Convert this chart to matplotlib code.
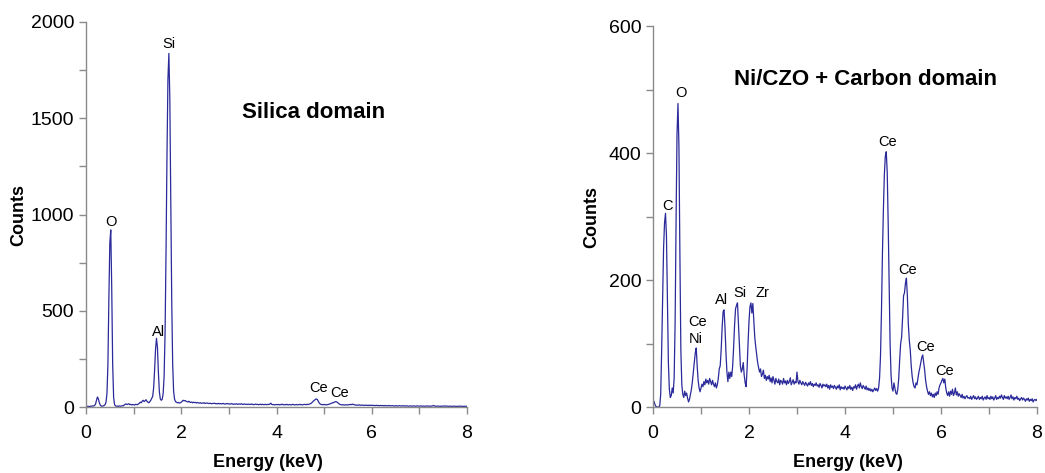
import numpy as np
import matplotlib
matplotlib.use("Agg")
import matplotlib.pyplot as plt
from matplotlib.ticker import MultipleLocator

plt.rcParams['font.family'] = ['Liberation Sans', 'DejaVu Sans']

# energy step of the spectra (keV per channel)
step = 0.02

# Silica domain counts, 0.00 .. 8.00 keV
silica_counts = [
    3, 2, 4, 3, 2, 5, 4, 6, 5, 8,
    15, 35, 52, 42, 22, 10, 5, 4, 6, 8,
    12, 25, 70, 220, 560, 850, 920, 620, 220, 50,
    12, 6, 4, 5, 3, 6, 4, 5, 7, 6,
    10, 14, 16, 13, 15, 17, 12, 14, 11, 13,
    12, 10, 14, 13, 12, 16, 20, 25, 22, 30,
    35, 28, 32, 38, 30, 25, 22, 28, 35, 45,
    55, 100, 190, 300, 357, 310, 180, 80, 42, 35,
    40, 70, 160, 380, 800, 1300, 1700, 1837, 1600, 1100,
    550, 220, 80, 40, 28, 25, 22, 24, 20, 22,
    25, 30, 35, 32, 34, 30, 28, 26, 30, 25,
    24, 26, 22, 25, 23, 24, 21, 23, 22, 20,
    22, 19, 21, 20, 22, 18, 20, 21, 19, 18,
    20, 18, 17, 19, 18, 20, 17, 18, 16, 19,
    17, 18, 16, 17, 19, 16, 15, 17, 18, 16,
    17, 15, 16, 18, 15, 14, 16, 15, 17, 14,
    15, 16, 14, 17, 15, 13, 16, 14, 15, 13,
    14, 15, 13, 14, 16, 13, 12, 14, 15, 13,
    14, 12, 13, 15, 12, 14, 13, 12, 14, 13,
    12, 14, 13, 15, 20, 14, 12, 13, 11, 12,
    13, 12, 14, 11, 13, 12, 15, 12, 11, 13,
    12, 14, 11, 12, 13, 11, 12, 14, 12, 11,
    12, 13, 11, 12, 14, 12, 13, 11, 12, 14,
    13, 12, 14, 13, 14, 16, 18, 22, 27, 32,
    36, 40, 42, 38, 28, 20, 15, 13, 12, 13,
    12, 13, 11, 12, 13, 14, 16, 18, 20, 22,
    23, 26, 28, 27, 24, 19, 15, 13, 12, 11,
    12, 10, 11, 12, 10, 11, 13, 12, 14, 12,
    15, 13, 11, 10, 11, 9, 10, 11, 9, 10,
    9, 10, 8, 9, 10, 8, 9, 8, 10, 8,
    9, 8, 9, 7, 8, 9, 7, 8, 7, 8,
    7, 8, 7, 6, 8, 7, 6, 7, 8, 6,
    7, 6, 7, 6, 5, 7, 6, 5, 6, 7,
    6, 5, 6, 7, 5, 6, 5, 6, 5, 4,
    5, 6, 4, 5, 6, 5, 4, 5, 6, 5,
    4, 5, 6, 4, 5, 4, 5, 4, 6, 5,
    4, 5, 4, 5, 6, 8, 5, 4, 5, 4,
    5, 4, 3, 5, 4, 5, 4, 6, 4, 5,
    4, 3, 5, 4, 3, 4, 5, 3, 4, 3,
    4, 3, 4, 5, 3, 4, 3, 4, 3, 4,
    3,
]

# Ni/CZO + Carbon domain counts, 0.00 .. 8.00 keV
carbon_counts = [
    2, 9, 4, 1, 0, 0, 0, 2, 20, 90,
    170, 250, 290, 305, 270, 170, 70, 28, 15, 18,
    30, 22, 45, 130, 290, 430, 478, 410, 240, 90,
    35, 20, 15, 25, 18, 22, 14, 8, 12, 20,
    28, 40, 55, 70, 85, 93, 65, 42, 30, 24,
    30, 36, 32, 40, 35, 44, 38, 42, 36, 45,
    40, 35, 42, 36, 32, 38, 30, 35, 45, 60,
    65, 90, 125, 150, 153, 125, 85, 55, 40, 55,
    45, 55, 48, 65, 95, 130, 155, 160, 164, 130,
    95, 65, 55, 60, 70, 50, 38, 32, 60, 100,
    135, 158, 164, 148, 163, 135, 110, 95, 82, 70,
    62, 55, 60, 48, 52, 58, 45, 50, 42, 48,
    44, 50, 40, 46, 38, 48, 42, 36, 45, 40,
    38, 44, 35, 42, 40, 36, 45, 38, 41, 35,
    42, 37, 40, 46, 35, 39, 43, 36, 40, 38,
    55, 40, 36, 42, 38, 35, 40, 37, 34, 39,
    36, 33, 38, 35, 40, 34, 37, 32, 36, 34,
    38, 33, 35, 31, 37, 34, 30, 36, 33, 35,
    32, 36, 30, 34, 28, 35, 31, 33, 29, 34,
    31, 28, 33, 30, 35, 27, 32, 29, 31, 28,
    33, 30, 27, 32, 29, 34, 28, 31, 26, 32,
    30, 35, 28, 33, 36, 30, 38, 32, 29, 34,
    31, 28, 33, 27, 30, 26, 29, 25, 28, 24,
    27, 30, 26, 29, 25, 30, 45, 80, 150, 240,
    310, 365, 395, 402, 370, 290, 190, 100, 50, 30,
    25, 38, 30, 22, 20, 28, 45, 75, 100, 110,
    140, 175, 180, 195, 203, 175, 130, 105, 90, 65,
    48, 38, 32, 30, 38, 35, 45, 55, 62, 70,
    78, 82, 70, 58, 42, 32, 25, 20, 24, 18,
    22, 16, 20, 15, 22, 18, 24, 20, 30, 35,
    38, 42, 45, 38, 44, 30, 22, 18, 24, 17,
    25, 20, 28, 18, 22, 30, 19, 24, 17, 21,
    18, 15, 20, 14, 17, 13, 16, 18, 14, 15,
    13, 17, 12, 15, 18, 13, 16, 12, 14, 17,
    12, 15, 13, 17, 11, 14, 16, 12, 18, 13,
    15, 12, 17, 13, 16, 11, 14, 18, 12, 15,
    13, 17, 14, 19, 15, 12, 18, 14, 16, 13,
    17, 12, 15, 19, 13, 16, 11, 15, 13, 17,
    12, 14, 10, 13, 15, 11, 14, 12, 9, 13,
    11, 14, 9, 12, 10, 13, 8, 11, 12, 10,
    12,
]

# peak labels
silica_labels = ['O', 'Al', 'Si', 'Ce', 'Ce']
silica_label_pos = [(0.52, 963), (1.53, 391), (1.74, 1884), (4.88, 97), (5.32, 71)]
carbon_labels = ['C', 'O', 'Ce', 'Ni', 'Al', 'Si', 'Zr', 'Ce', 'Ce', 'Ce', 'Ce']
carbon_label_pos = [(0.31, 317), (0.58, 494), (0.935, 134), (0.90, 107), (1.42, 169),
                    (1.82, 180), (2.29, 179), (4.88, 418), (5.30, 215), (5.67, 95), (6.07, 56)]

line_color = '#2a2a9a'
axis_gray = '#8a8a8a'

fig = plt.figure(figsize=(10.45, 4.73), dpi=100)
ax1 = fig.add_axes([0.0823, 0.1395, 0.3646, 0.814])
ax2 = fig.add_axes([0.6249, 0.1395, 0.3674, 0.8055])


def style_axis(ax, ymax, ymajor, yminor, xlab_x):
    for s in ['top', 'right']:
        ax.spines[s].set_visible(False)
    for s in ['left', 'bottom']:
        ax.spines[s].set_color(axis_gray)
        ax.spines[s].set_linewidth(1.0)
    ax.set_xlim(0, 8)
    ax.set_ylim(0, ymax)
    ax.xaxis.set_major_locator(MultipleLocator(2))
    ax.xaxis.set_minor_locator(MultipleLocator(1))
    ax.yaxis.set_major_locator(MultipleLocator(ymajor))
    ax.yaxis.set_minor_locator(MultipleLocator(yminor))
    ax.tick_params(which='both', direction='out', length=5, width=1.0,
                   color=axis_gray, labelsize=14, labelcolor='black')
    ax.tick_params(axis='x', pad=8)
    ax.set_xlabel('Energy (keV)', fontsize=13, fontweight='bold', va='center')
    ax.set_ylabel('Counts', fontsize=13, fontweight='bold', va='center')
    ax.xaxis.set_label_coords(xlab_x, -0.145)


energy1 = np.arange(len(silica_counts)) * step
energy2 = np.arange(len(carbon_counts)) * step

ax1.plot(energy1, silica_counts, color=line_color, lw=0.9)
style_axis(ax1, 2000, 500, 250, 0.478)
ax1.yaxis.set_label_coords(-0.176, 0.5)
for name, (x, y) in zip(silica_labels, silica_label_pos):
    ax1.text(x, y, name, fontsize=10.5, ha='center', va='center')
ax1.text(4.77, 1529, 'Silica domain', fontsize=16, fontweight='bold', ha='center', va='center')

ax2.plot(energy2, carbon_counts, color=line_color, lw=0.9)
style_axis(ax2, 600, 200, 100, 0.507)
ax2.yaxis.set_label_coords(-0.16, 0.5)
for name, (x, y) in zip(carbon_labels, carbon_label_pos):
    ax2.text(x, y, name, fontsize=10.5, ha='center', va='center')
ax2.text(4.42, 516, 'Ni/CZO + Carbon domain', fontsize=16, fontweight='bold', ha='center', va='center')

fig.savefig('out.png', dpi=100)
